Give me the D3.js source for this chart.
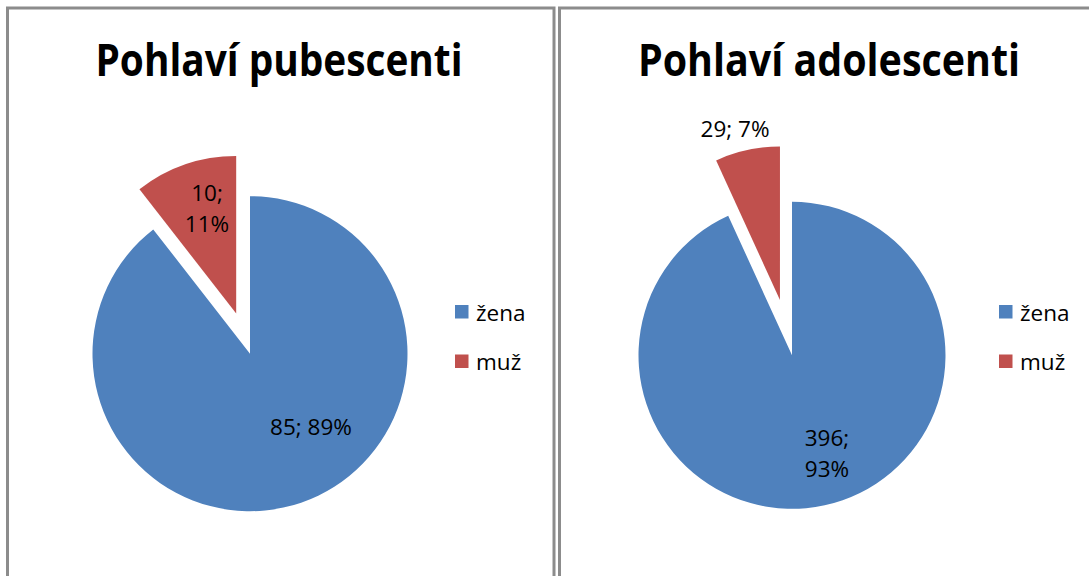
<!DOCTYPE html>
<html>
<head>
<meta charset="utf-8">
<script src="https://cdn.jsdelivr.net/npm/d3@7"></script>
<style>
  html, body { margin: 0; padding: 0; background: #fff; }
  svg { display: block; }
</style>
</head>
<body>
<svg id="chart" width="1089" height="576"></svg>
<script>
// ---- data ----
const categories = ["žena", "muž"];
const titles = ["Pohlaví pubescenti", "Pohlaví adolescenti"];
const pubescentiValues = [85, 10];
const adolescentiValues = [396, 29];
const pubescentiLabels = [["85; 89%"], ["10;", "11%"]];
const adolescentiLabels = [["396;", "93%"], ["29; 7%"]];
const colors = ["#4f81bd", "#c0504d"];

// ---- layout ----
const svg = d3.select("#chart");
const FONT = "'Open Sans', 'Liberation Sans', sans-serif";

const panels = [
  { x0: 7.5, x1: 554, cx: 250, cy: 353.7, r: 157.5, explode: 42.5, title: titles[0], titleX: 279, titleW: 367,
    values: pubescentiValues, labels: pubescentiLabels,
    labelPos: [[61, 81], [-43, -153]], legendX: 455 },
  { x0: 559.5, x1: 1100, cx: 792, cy: 355.3, r: 153.5, explode: 56.6, title: titles[1], titleX: 829, titleW: 382,
    values: adolescentiValues, labels: adolescentiLabels,
    labelPos: [[35, 91], [-57, -218]], legendX: 999 }
];

panels.forEach(p => {
  const g = svg.append("g");
  // border
  g.append("rect")
    .attr("x", p.x0).attr("y", 8)
    .attr("width", p.x1 - p.x0).attr("height", 620)
    .attr("fill", "#fff")
    .attr("stroke", "#8c8c8c").attr("stroke-width", 3);

  // title
  g.append("text")
    .attr("x", p.titleX).attr("y", 76)
    .attr("text-anchor", "middle")
    .attr("font-family", FONT).attr("font-weight", "bold")
    .attr("font-size", 44)
    .attr("textLength", p.titleW).attr("lengthAdjust", "spacingAndGlyphs")
    .attr("fill", "#000")
    .text(p.title);

  const pie = d3.pie().sort(null).value(d => d);
  const arcs = pie(p.values);
  const arc = d3.arc().innerRadius(0).outerRadius(p.r);

  const pg = g.append("g").attr("transform", `translate(${p.cx},${p.cy})`);
  arcs.forEach((a, i) => {
    const mid = (a.startAngle + a.endAngle) / 2;
    const d = i === 1 ? p.explode : 0;
    const dx = d * Math.sin(mid), dy = -d * Math.cos(mid);
    pg.append("path")
      .attr("d", arc(a))
      .attr("transform", `translate(${dx},${dy})`)
      .attr("fill", colors[i]);
  });

  // data labels
  arcs.forEach((a, i) => {
    const lines = p.labels[i];
    const [lx, ly] = p.labelPos[i];
    const lineH = 31;
    const t = pg.append("text")
      .attr("text-anchor", "middle")
      .attr("font-family", FONT).attr("font-size", 22.5)
      .attr("fill", "#000");
    lines.forEach((ln, k) => {
      t.append("tspan")
        .attr("x", lx)
        .attr("y", ly + k * lineH)
        .text(ln);
    });
  });

  // legend
  const lg = g.append("g");
  categories.forEach((c, i) => {
    const y = 305 + i * 49.5;
    lg.append("rect")
      .attr("x", p.legendX).attr("y", y)
      .attr("width", 13.5).attr("height", 13.5)
      .attr("fill", colors[i]);
    lg.append("text")
      .attr("x", p.legendX + 21).attr("y", y + 15.5)
      .attr("font-family", FONT).attr("font-size", 22.5)
      .attr("fill", "#000")
      .text(c);
  });
});
</script>
</body>
</html>
